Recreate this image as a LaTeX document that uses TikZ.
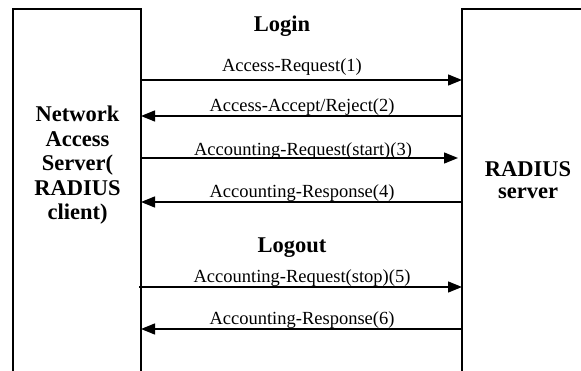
\documentclass[tikz,border=0pt]{standalone}
\usepackage{fontspec}
\setmainfont{Liberation Serif}
\usetikzlibrary{arrows.meta}
\begin{document}
\begin{tikzpicture}[x=1pt,y=-1pt,
  boxline/.style={line width=1.6pt},
  msg/.style={line width=1.3pt,-{Triangle[length=14pt,width=11pt]}},
  lbl/.style={font=\fontsize{18.5}{20}\selectfont,anchor=base,inner sep=0pt},
  head/.style={font=\fontsize{22.5}{24}\selectfont\bfseries,anchor=base,inner sep=0pt},
  party/.style={font=\fontsize{22.5}{24.5}\selectfont\bfseries,align=center,inner sep=0pt}]
\path[use as bounding box] (0,0) rectangle (581,371);
\coordinate (nasNW) at (13,9);
\coordinate (nasNE) at (141,9);
\coordinate (radNW) at (462,9);
\coordinate (radNE) at (585,9);
\coordinate (nasSW) at (13,375);
\coordinate (nasSE) at (141,375);
\coordinate (radSW) at (462,375);
\draw[boxline] (nasSW) -- (nasNW);
\draw[boxline] (nasSE) -- (nasNE);
\draw[boxline] (radSW) -- (radNW);
\draw[line width=2pt,line cap=rect] (nasNW) -- (nasNE);
\draw[line width=2pt,line cap=rect] (radNW) -- (radNE);
\node[party] (nastext) at (77.5,165.5) {Network\\Access\\Server(\\RADIUS\\client)};
\node[party] (radtext) at (528,180) {RADIUS\\[-3pt]server};
\node[head] (login) at (282,32) {Login};
\node[head] (logout) at (292,253) {Logout};
\draw[msg] (nasNE |- 0,80) -- (radNW |- 0,80);
\draw[msg] (radNW |- 0,116) -- (nasNE |- 0,116);
\draw[msg,shorten >=4pt] (nasNE |- 0,158) -- (radNW |- 0,158);
\draw[msg] (radNW |- 0,202) -- (nasNE |- 0,202);
\draw[msg,shorten <=-2pt] (nasNE |- 0,287) -- (radNW |- 0,287);
\draw[msg] (radNW |- 0,329) -- (nasNE |- 0,329);
\node[lbl] (l1) at (292,72) {Access-Request(1)};
\node[lbl] (l2) at (302,112) {Access-Accept/Reject(2)};
\node[lbl] (l3) at (303,156) {Accounting-Request(start)(3)};
\node[lbl] (l4) at (302,198) {Accounting-Response(4)};
\node[lbl] (l5) at (302,283) {Accounting-Request(stop)(5)};
\node[lbl] (l6) at (302,325) {Accounting-Response(6)};
\end{tikzpicture}
\end{document}
